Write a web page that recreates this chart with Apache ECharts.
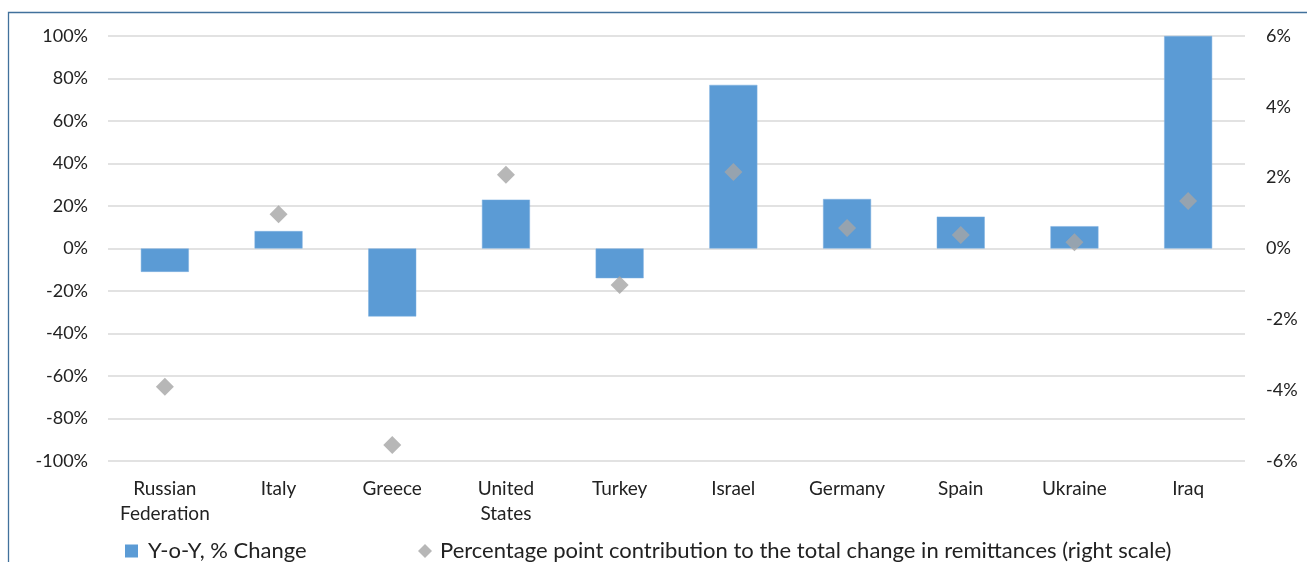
<!DOCTYPE html>
<html lang="en">
<head>
    <meta charset="UTF-8">
    <title>Remittances</title>
    <script type="text/javascript" src="https://cdn.jsdelivr.net/npm/echarts@6/dist/echarts.min.js"></script>
    <style>
        body { margin: 0; background: #fff; }
    </style>
</head>
<body>
<div id="chartmain" style="width:1307px;height:562px"></div>
<script>
    // countries along the x axis
    var countries = ['Russian\nFederation', 'Italy', 'Greece', 'United\nStates', 'Turkey',
        'Israel', 'Germany', 'Spain', 'Ukraine', 'Iraq'];
    // y-o-y change, % (left scale)
    var yoyChange = [-11, 8.2, -32, 23, -14, 77, 23.3, 15, 10.5, 100];
    // percentage point contribution (right scale)
    var contribution = [-3.9, 0.97, -5.55, 2.08, -1.03, 2.16, 0.58, 0.38, 0.18, 1.34];

    var leftTicks = { min: -100, max: 100, interval: 20 };
    var rightTicks = { min: -6, max: 6, interval: 2 };

    var barName = 'Y-o-Y, % Change';
    var dotName = 'Percentage point contribution to the total change in remittances (right scale)';

    var fontFam = 'Lato, "Open Sans", sans-serif';

    var option = {
        animation: false,
        textStyle: { fontFamily: fontFam },
        graphic: [{
            type: 'rect',
            shape: { x: 8.5, y: 12.5, width: 1320, height: 600 },
            style: { fill: 'none', stroke: '#41719c', lineWidth: 1.3 },
            silent: true
        }],
        grid: { left: 108, right: 62, top: 36, bottom: 101 },
        legend: [
            {
                left: 120,
                top: 535,
                itemWidth: 13,
                itemHeight: 13,
                itemStyle: { borderWidth: 0 },
                textStyle: { fontSize: 22, color: '#222', fontFamily: fontFam, padding: [0, 0, 0, 5] },
                data: [{ name: barName, icon: 'rect' }]
            },
            {
                left: 413,
                top: 535,
                itemWidth: 14,
                itemHeight: 14,
                textStyle: { fontSize: 22, color: '#222', fontFamily: fontFam, padding: [0, 0, 0, 3] },
                data: [{ name: dotName, icon: 'diamond' }]
            }
        ],
        xAxis: {
            type: 'category',
            data: countries,
            axisLine: { show: false },
            axisTick: { show: false },
            position: 'bottom',
            axisLabel: {
                interval: 0,
                fontSize: 19,
                lineHeight: 25,
                color: '#222',
                margin: 15
            }
        },
        yAxis: [
            {
                type: 'value',
                min: leftTicks.min,
                max: leftTicks.max,
                interval: leftTicks.interval,
                axisLine: { show: false },
                axisTick: { show: false },
                splitLine: { lineStyle: { color: '#d9d9d9', width: 1.5 } },
                axisLabel: { formatter: '{value}%', fontSize: 18, color: '#222', margin: 20 }
            },
            {
                type: 'value',
                min: rightTicks.min,
                max: rightTicks.max,
                interval: rightTicks.interval,
                axisLine: { show: false },
                axisTick: { show: false },
                splitLine: { show: false },
                axisLabel: { formatter: '{value}%', fontSize: 18, color: '#222', margin: 21 }
            }
        ],
        series: [
            {
                name: barName,
                type: 'bar',
                data: yoyChange,
                barWidth: 48,
                itemStyle: { color: '#5b9bd5', borderColor: '#7fb0e0', borderWidth: 0.5 }
            },
            {
                name: dotName,
                type: 'scatter',
                yAxisIndex: 1,
                data: contribution,
                symbol: 'diamond',
                symbolSize: [18, 18],
                itemStyle: { color: '#a5a5a5' },
                z: 5
            }
        ]
    };

    var myChart = echarts.init(document.getElementById('chartmain'));
    myChart.setOption(option);
</script>
</body>
</html>
